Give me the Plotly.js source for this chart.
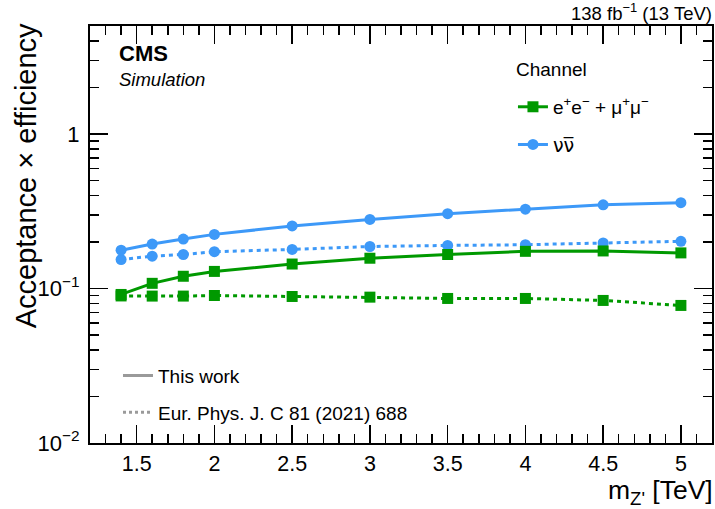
<!DOCTYPE html>
<html>
<head>
<meta charset="utf-8">
<script src="https://cdn.plot.ly/plotly-3.0.1.min.js"></script>
<style>html,body{margin:0;padding:0;background:#fff;}#chart{width:715px;height:509px;}</style>
</head>
<body>
<div id="chart"></div>
<script>
// Z' mass points (TeV)
const massTeV = [1.4, 1.6, 1.8, 2.0, 2.5, 3.0, 3.5, 4.0, 4.5, 5.0];
// Acceptance x efficiency, this work
const llThisWork = [0.0915, 0.108, 0.120, 0.129, 0.144, 0.157, 0.166, 0.174, 0.175, 0.170];
const nunuThisWork = [0.177, 0.194, 0.209, 0.224, 0.254, 0.280, 0.305, 0.326, 0.348, 0.359];
// Acceptance x efficiency, Eur. Phys. J. C 81 (2021) 688
const llPrevious = [0.0895, 0.0893, 0.0893, 0.0901, 0.0888, 0.0879, 0.0862, 0.0862, 0.0837, 0.0777];
const nunuPrevious = [0.154, 0.162, 0.166, 0.173, 0.179, 0.187, 0.190, 0.192, 0.197, 0.202];

const yMajorVals = [0.01, 0.1, 1];
const yMajorText = ['10<sup>−2</sup>', '10<sup>−1</sup>', '1'];
const yMinorVals = [0.02,0.03,0.04,0.05,0.06,0.07,0.08,0.09,0.2,0.3,0.4,0.5,0.6,0.7,0.8,0.9,2,3,4,5];

const GREEN = '#009900';
const BLUE = '#3d99f8';
const GRAY = '#9a9a9a';
const FONT = 'Liberation Sans, Arial, Helvetica, sans-serif';

const traces = [
  {x: massTeV, y: llPrevious, mode: 'lines+markers', showlegend: false,
   line: {color: GREEN, width: 3, dash: '4px,4px'}, marker: {symbol: 'square', size: 11, color: GREEN}},
  {x: massTeV, y: nunuPrevious, mode: 'lines+markers', showlegend: false,
   line: {color: BLUE, width: 3, dash: '4px,4px'}, marker: {symbol: 'circle', size: 11, color: BLUE}},
  {x: massTeV, y: llThisWork, mode: 'lines+markers', name: 'e<sup>+</sup>e<sup>−</sup> + μ<sup>+</sup>μ<sup>−</sup>',
   legend: 'legend', legendgroup: 'g1',
   line: {color: GREEN, width: 3}, marker: {symbol: 'square', size: 11, color: GREEN}},
  {x: massTeV, y: nunuThisWork, mode: 'lines+markers', name: '<span style="font-family:DejaVu Sans">ν</span><span style="font-family:DejaVu Sans">ν\u0305</span>',
   legend: 'legend', legendgroup: 'g2',
   line: {color: BLUE, width: 3}, marker: {symbol: 'circle', size: 11, color: BLUE}},
  {x: [null], y: [null], mode: 'lines', name: 'This work', legend: 'legend2', legendgroup: 'g3',
   line: {color: GRAY, width: 3}},
  {x: [null], y: [null], mode: 'lines', name: 'Eur. Phys. J. C 81 (2021) 688', legend: 'legend2', legendgroup: 'g4',
   line: {color: GRAY, width: 3, dash: '3px,3px'}}
];

const layout = {
  width: 715, height: 509,
  margin: {l: 90, r: 3, t: 26, b: 66},
  paper_bgcolor: '#fff', plot_bgcolor: '#fff',
  font: {family: FONT, size: 19, color: '#000'},
  xaxis: {
    range: [1.2, 5.2], tick0: 0, dtick: 0.5, showgrid: false, zeroline: false,
    ticks: 'inside', ticklen: 18, tickwidth: 1.5, tickcolor: '#000',
    showline: true, linewidth: 2, linecolor: '#000', mirror: 'ticks',
    tickfont: {size: 21.5}, ticklabelstandoff: 0,
    minor: {dtick: 0.1, tick0: 0, ticks: 'inside', ticklen: 9, tickwidth: 1.5, tickcolor: '#000', showgrid: false}
  },
  yaxis: {
    type: 'log', range: [-2, Math.log10(5)], showgrid: false, zeroline: false,
    tickmode: 'array', tickvals: yMajorVals, ticktext: yMajorText,
    ticks: 'inside', ticklen: 18, tickwidth: 1.5, tickcolor: '#000',
    showline: true, linewidth: 2, linecolor: '#000', mirror: 'ticks',
    tickfont: {size: 22}, ticklabelstandoff: 4,
    minor: {tickmode: 'array', tickvals: yMinorVals, ticks: 'inside', ticklen: 9, tickwidth: 1.5, tickcolor: '#000', showgrid: false}
  },
  legend: {
    x: 0.68, y: (443.5 - 88) / 417.5, xanchor: 'left', yanchor: 'top',
    bgcolor: 'rgba(0,0,0,0)', borderwidth: 0,
    font: {size: 19}, tracegroupgap: 10, itemwidth: 30
  },
  legend2: {
    x: 0.045, y: 0.207, xanchor: 'left', yanchor: 'top',
    bgcolor: 'rgba(0,0,0,0)', borderwidth: 0,
    font: {size: 19}, tracegroupgap: 9, itemwidth: 30
  },
  annotations: [
    {text: 'Channel', xref: 'paper', yref: 'paper', x: (514 - 90) / 622, y: (443.5 - 70) / 417.5,
     xanchor: 'left', yanchor: 'middle', showarrow: false, font: {size: 19}},
    {text: '<b>CMS</b>', xref: 'paper', yref: 'paper', x: (117 - 90) / 622, y: (443.5 - 68) / 417.5,
     xanchor: 'left', yanchor: 'bottom', showarrow: false, font: {size: 22}},
    {text: '<i>Simulation</i>', xref: 'paper', yref: 'paper', x: (117 - 90) / 622, y: (443.5 - 92) / 417.5,
     xanchor: 'left', yanchor: 'bottom', showarrow: false, font: {size: 18.5}},
    {text: '138 fb<sup>−1</sup> (13 TeV)', xref: 'paper', yref: 'paper', x: 1.003, y: 1.0,
     xanchor: 'right', yanchor: 'bottom', showarrow: false, font: {size: 18.5}},
    {text: 'Acceptance × efficiency', xref: 'paper', yref: 'paper', x: (26 - 90) / 622, y: 1.01,
     xanchor: 'center', yanchor: 'top', textangle: -90, showarrow: false, font: {size: 29}},
    {text: 'm<sub>Z\'</sub> [TeV]', xref: 'paper', yref: 'paper', x: 1.003, y: (443.5 - 511) / 417.5,
     xanchor: 'right', yanchor: 'bottom', showarrow: false, borderpad: 0, font: {size: 26.5}}
  ]
};

Plotly.newPlot('chart', traces, layout, {displayModeBar: false, staticPlot: true});
</script>
</body>
</html>
